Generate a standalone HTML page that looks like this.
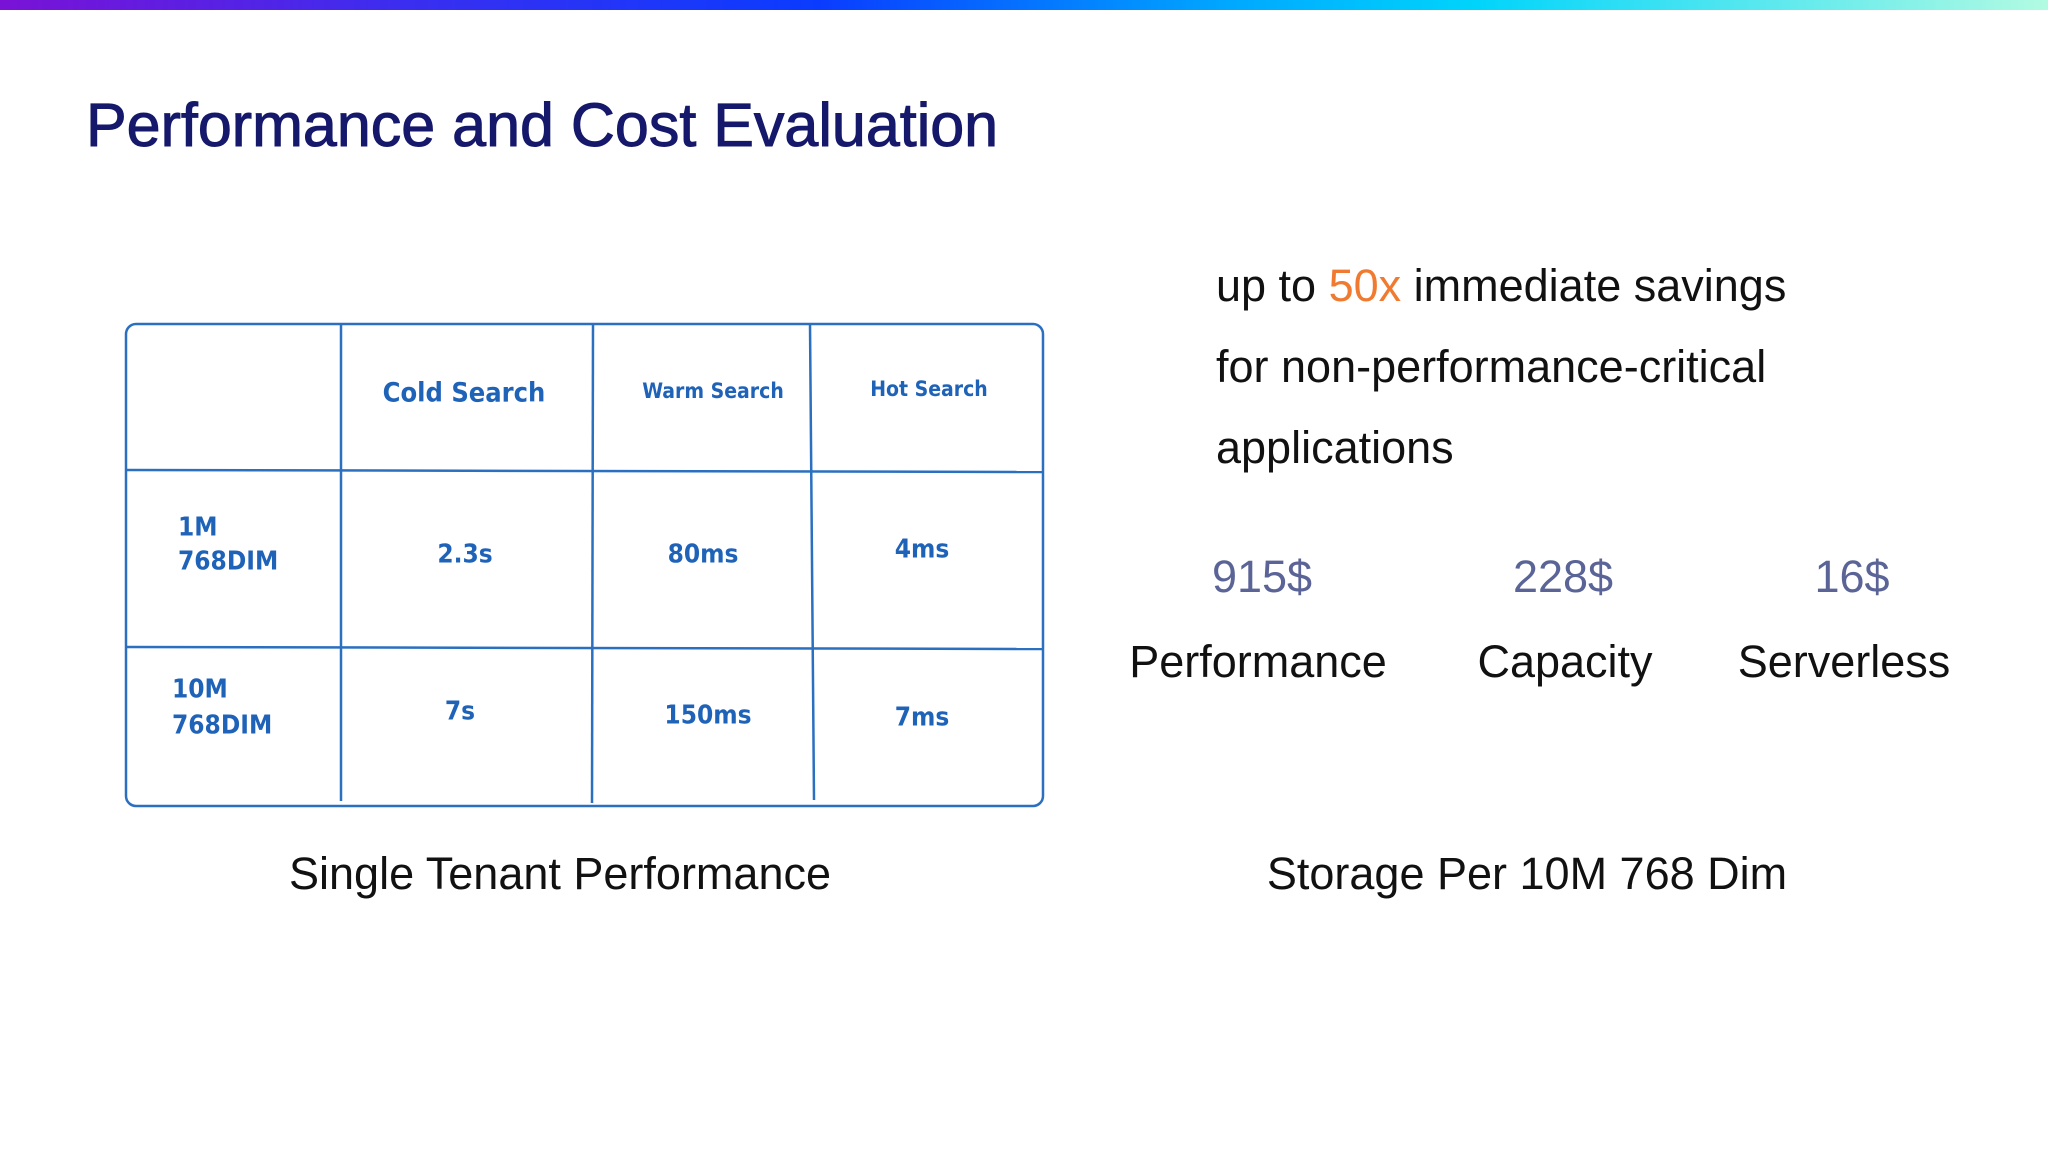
<!DOCTYPE html>
<html><head><meta charset="utf-8">
<style>
html,body{margin:0;padding:0;background:#fff;}
body{width:2048px;height:1152px;position:relative;overflow:hidden;font-family:"Liberation Sans",sans-serif;}
.bar{position:absolute;left:0;top:0;width:2048px;height:10px;background:linear-gradient(90deg,#7a12d6 0%,#3a2ef0 20%,#0a3cff 40%,#00a8ff 60%,#00d4fb 72%,#b2fbe2 100%);}
.t{position:absolute;white-space:nowrap;}
.title{left:86px;top:90px;font-size:61px;color:#15186b;-webkit-text-stroke:1px #15186b;}
.big{font-size:45px;color:#111;transform:translate(-50%,-50%);}
.price{font-size:45px;color:#5b6496;transform:translate(-50%,-50%);}
.para{left:1216px;font-size:45px;color:#111;transform:translateY(-50%);}
svg{position:absolute;left:0;top:0;}
.hw{font-family:"DejaVu Sans Condensed","DejaVu Sans",sans-serif;fill:#1f63b8;font-weight:bold;}
</style></head><body>
<div class="bar"></div>
<div class="t title">Performance and Cost Evaluation</div>

<svg width="2048" height="1152">
  <g stroke="#2a6fc0" stroke-width="2.5" fill="none">
    <rect x="126" y="324" width="917" height="482" rx="10"/>
    <line x1="126" y1="470" x2="1043" y2="472"/>
    <line x1="126" y1="647" x2="1043" y2="649"/>
    <line x1="341" y1="324" x2="341" y2="801"/>
    <line x1="593" y1="324" x2="592" y2="803"/>
    <line x1="810" y1="324" x2="814" y2="800"/>
  </g>
  <g class="hw" text-anchor="middle" dominant-baseline="middle">
    <text x="464" y="394" font-size="27">Cold Search</text>
    <text x="713" y="392" font-size="21">Warm Search</text>
    <text x="929" y="390" font-size="21">Hot Search</text>
    <text x="465" y="555" font-size="26">2.3s</text>
    <text x="703" y="555" font-size="26">80ms</text>
    <text x="922" y="550" font-size="26">4ms</text>
    <text x="460" y="712" font-size="26">7s</text>
    <text x="708" y="716" font-size="26">150ms</text>
    <text x="922" y="718" font-size="26">7ms</text>
  </g>
  <g class="hw" dominant-baseline="middle" font-size="26">
    <text x="178" y="528">1M</text>
    <text x="178" y="562">768DIM</text>
    <text x="172" y="690">10M</text>
    <text x="172" y="726">768DIM</text>
  </g>
</svg>

<div class="t para" style="top:286px">up to <span style="color:#f07a30">50x</span> immediate savings</div>
<div class="t para" style="top:367px">for non-performance-critical</div>
<div class="t para" style="top:448px">applications</div>

<div class="t price" style="left:1262px;top:577px">915$</div>
<div class="t price" style="left:1563px;top:577px">228$</div>
<div class="t price" style="left:1852px;top:577px">16$</div>

<div class="t big" style="left:1258px;top:662px">Performance</div>
<div class="t big" style="left:1565px;top:662px">Capacity</div>
<div class="t big" style="left:1844px;top:662px">Serverless</div>

<div class="t big" style="left:560px;top:874px">Single Tenant Performance</div>
<div class="t big" style="left:1527px;top:874px">Storage Per 10M 768 Dim</div>
</body></html>
